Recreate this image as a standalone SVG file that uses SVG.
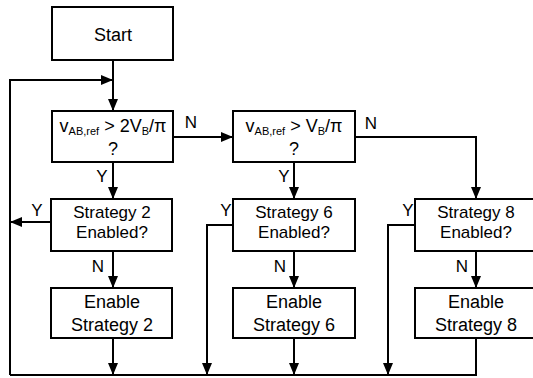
<svg xmlns="http://www.w3.org/2000/svg" width="533" height="378" viewBox="0 0 533 378">
<defs>
<marker id="arr" markerUnits="userSpaceOnUse" markerWidth="12" markerHeight="10" refX="12" refY="5" orient="auto">
<path d="M0,0 L12,5 L0,10 Z" fill="#000"/>
</marker>
<style>
rect{fill:#fff;stroke:#000;stroke-width:2}
text{font-family:"Liberation Sans",Arial,sans-serif;font-size:18px;fill:#000;text-anchor:middle}
.lbl{font-size:17px}
.st{font-size:17px}
.sub{font-size:11px}
#connectors path{fill:none;stroke:#000;stroke-width:2}
.a{marker-end:url(#arr)}
</style>
</defs>
<rect x="0" y="0" width="533" height="378" style="fill:#fff;stroke:none"/>
<g id="connectors">
<path class="a" d="M113,60 V111"/>
<path class="a" d="M10,375 V80 H113"/>
<path class="a" d="M173,137 H233"/>
<path class="a" d="M113,162 V199"/>
<path class="a" d="M355,137 H476 V199"/>
<path class="a" d="M294,162 V199"/>
<path class="a" d="M51,222 H10"/>
<path class="a" d="M113,251 V288"/>
<path class="a" d="M294,251 V288"/>
<path class="a" d="M476,251 V288"/>
<path class="a" d="M233,225 H207 V375"/>
<path class="a" d="M415,225 H388 V375"/>
<path class="a" d="M113,338 V375"/>
<path class="a" d="M294,338 V375"/>
<path d="M476,338 V375 H10"/>
<text class="lbl" x="191" y="128">N</text>
<text class="lbl" x="371" y="129">N</text>
<text class="lbl" x="102" y="182">Y</text>
<text class="lbl" x="284" y="182">Y</text>
<text class="lbl" x="37" y="216">Y</text>
<text class="lbl" x="226" y="216">Y</text>
<text class="lbl" x="408" y="216">Y</text>
<text class="lbl" x="98" y="272">N</text>
<text class="lbl" x="280" y="272">N</text>
<text class="lbl" x="462" y="272">N</text>
</g>
<g id="start">
<rect x="52" y="7" width="121" height="53"/>
<text x="113" y="41">Start</text>
</g>
<g id="decision1">
<rect x="52" y="111" width="121" height="51"/>
<text x="113" y="132">v<tspan class="sub" dy="3">AB,ref</tspan><tspan dy="-3"> &gt; 2V</tspan><tspan class="sub" dy="3">B</tspan><tspan dy="-3">/π</tspan></text>
<text x="113" y="155">?</text>
</g>
<g id="decision2">
<rect x="233" y="111" width="122" height="51"/>
<text x="294" y="132">v<tspan class="sub" dy="3">AB,ref</tspan><tspan dy="-3"> &gt; V</tspan><tspan class="sub" dy="3">B</tspan><tspan dy="-3">/π</tspan></text>
<text x="294" y="155">?</text>
</g>
<g id="check2">
<rect x="51" y="199" width="121" height="52"/>
<text class="st" x="112" y="218">Strategy 2</text>
<text class="st" x="112" y="238">Enabled?</text>
</g>
<g id="check6">
<rect x="233" y="199" width="122" height="52"/>
<text class="st" x="294" y="218">Strategy 6</text>
<text class="st" x="294" y="238">Enabled?</text>
</g>
<g id="check8">
<rect x="415" y="199" width="122" height="52"/>
<text class="st" x="476" y="218">Strategy 8</text>
<text class="st" x="476" y="238">Enabled?</text>
</g>
<g id="enable2">
<rect x="51" y="288" width="121" height="50"/>
<text x="112" y="308">Enable</text>
<text x="112" y="331">Strategy 2</text>
</g>
<g id="enable6">
<rect x="233" y="288" width="122" height="50"/>
<text x="294" y="308">Enable</text>
<text x="294" y="331">Strategy 6</text>
</g>
<g id="enable8">
<rect x="415" y="288" width="122" height="50"/>
<text x="476" y="308">Enable</text>
<text x="476" y="331">Strategy 8</text>
</g>
</svg>
